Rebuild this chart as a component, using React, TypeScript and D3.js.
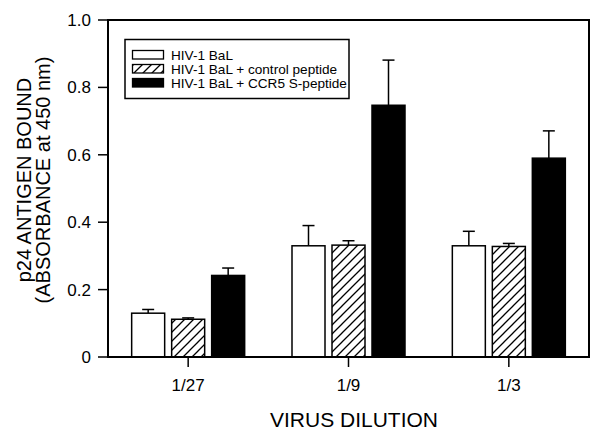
import React from "react";
import * as d3 from "d3";

const categories = ["1/27", "1/9", "1/3"];
const seriesNames = ["HIV-1 BaL", "HIV-1 BaL + control peptide", "HIV-1 BaL + CCR5 S-peptide"];
const baL = [0.13, 0.33, 0.33];
const baLErr = [0.011, 0.06, 0.043];
const control = [0.112, 0.332, 0.328];
const controlErr = [0.004, 0.013, 0.009];
const ccr5 = [0.242, 0.747, 0.59];
const ccr5Err = [0.022, 0.134, 0.081];
const yTicks = [0, 0.2, 0.4, 0.6, 0.8, 1.0];

const W = 600, H = 441;
const left = 108, right = 589, top = 20, bottom = 357;

export default function App() {
  const x = d3.scaleBand<string>().domain(categories).range([left, right]).padding(0);
  const y = d3.scaleLinear().domain([0, 1]).range([bottom, top]);
  const barW = 33, gap = 7;
  const series = [
    { name: seriesNames[0], vals: baL, err: baLErr, fill: "white" },
    { name: seriesNames[1], vals: control, err: controlErr, fill: "url(#hatch)" },
    { name: seriesNames[2], vals: ccr5, err: ccr5Err, fill: "black" },
  ];
  const font = "Liberation Sans, Arial, sans-serif";
  const fmt = (v: number) => (v === 0 ? "0" : v.toFixed(1));
  return (
    <svg width={W} height={H} style={{ position: "absolute", left: 0, top: 0 }} fontFamily={font}>
      <defs>
        <pattern id="hatch" patternUnits="userSpaceOnUse" width={9} height={9}>
          <rect width={9} height={9} fill="white" />
          <path d="M-1,1 l2,-2 M0,9 l9,-9 M8,10 l2,-2" stroke="black" strokeWidth={1.3} />
        </pattern>
      </defs>
      <rect x={0} y={0} width={W} height={H} fill="white" />
      {series.map((s, si) =>
        categories.map((c, ci) => {
          const cx = (x(c) as number) + x.bandwidth() / 2;
          const bx = cx - (3 * barW + 2 * gap) / 2 + si * (barW + gap);
          const yv = y(s.vals[ci]);
          const ye = y(s.vals[ci] + s.err[ci]);
          const mx = bx + barW / 2;
          return (
            <g key={`${si}-${ci}`}>
              <line x1={mx} x2={mx} y1={yv} y2={ye} stroke="black" strokeWidth={1.5} />
              <line x1={mx - 6} x2={mx + 6} y1={ye} y2={ye} stroke="black" strokeWidth={1.5} />
              <rect x={bx} y={yv} width={barW} height={bottom - yv} fill={s.fill} stroke="black" strokeWidth={1.5} />
            </g>
          );
        })
      )}
      {/* frame */}
      <path d={`M${left},${bottom} V${top} H${right} V${bottom} Z`} fill="none" stroke="black" strokeWidth={2} />
      {yTicks.map((t) => (
        <g key={t}>
          <line x1={left - 10} x2={left} y1={y(t)} y2={y(t)} stroke="black" strokeWidth={1.5} />
          <text x={left - 17} y={y(t)} dy="0.35em" textAnchor="end" fontSize={17} fill="black">{fmt(t)}</text>
        </g>
      ))}
      {categories.map((c) => {
        const cx = (x(c) as number) + x.bandwidth() / 2;
        return (
          <g key={c}>
            <line x1={cx} x2={cx} y1={bottom} y2={bottom + 10} stroke="black" strokeWidth={1.5} />
            <text x={cx} y={bottom + 34} textAnchor="middle" fontSize={17} fill="black">{c}</text>
          </g>
        );
      })}
      <text x={354} y={427} textAnchor="middle" fontSize={21} fill="black">VIRUS DILUTION</text>
      <text transform={`translate(31,180) rotate(-90)`} textAnchor="middle" fontSize={20} fill="black">p24 ANTIGEN BOUND</text>
      <text transform={`translate(50,180) rotate(-90)`} textAnchor="middle" fontSize={20} fill="black">(ABSORBANCE at 450 nm)</text>
      {/* legend */}
      <rect x={125} y={39.5} width={224} height={59} fill="white" stroke="black" strokeWidth={1.5} />
      {series.map((s, i) => (
        <g key={s.name}>
          <rect x={132.5} y={50.5 + i * 14} width={31} height={8.5} fill={s.fill} stroke="black" strokeWidth={1.3} />
          <text x={171} y={55 + i * 14} dy="0.35em" fontSize={13.6} fill="black">{s.name}</text>
        </g>
      ))}
    </svg>
  );
}
